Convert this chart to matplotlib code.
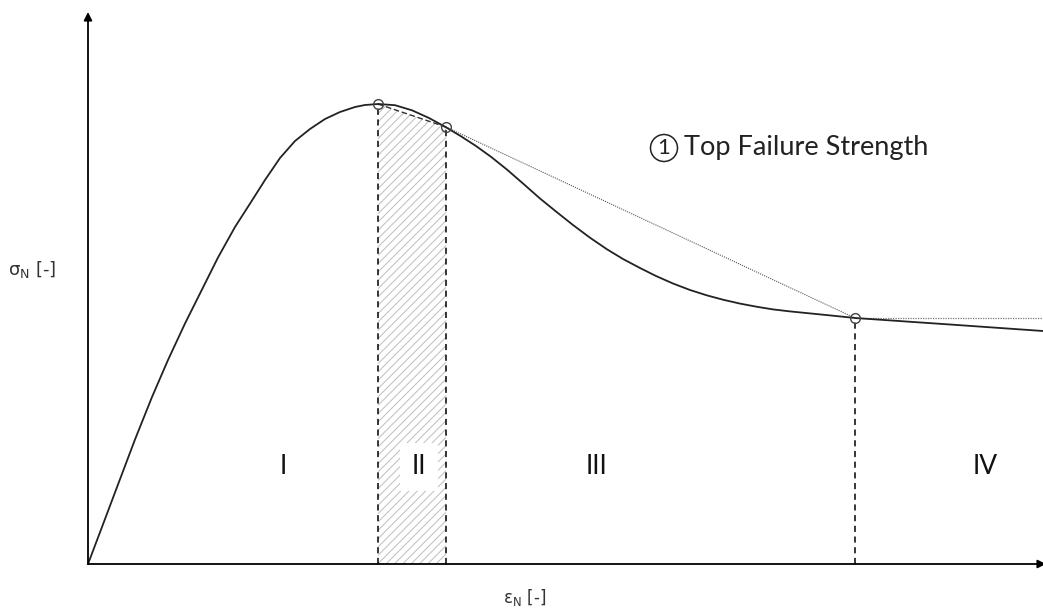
import numpy as np
import matplotlib.pyplot as plt
from matplotlib.patches import Circle

plt.rcParams['hatch.linewidth'] = 0.7

# stress-strain curve (normalised), read as strain / stress pairs
eps = [0, 14, 30, 47, 64, 80, 97, 114, 130, 147, 164, 177, 192, 207, 222,
       237, 252, 267, 277, 290,
       307, 324, 341, 358, 373, 388, 403, 419, 435, 452, 468, 485, 502,
       519, 535, 552, 568, 585, 602, 619, 635, 652, 669, 685, 702, 719,
       743, 767, 862, 955]
sig = [0, 37, 79.5, 124.5, 167, 204, 240.5, 274.5, 306.5, 337, 363.5, 384,
       406, 423, 435, 445, 452, 457, 459, 460,
       458.8, 453.7, 446, 436.7, 427.7, 418, 407.2, 394.4, 380.5, 365.5,
       352.5, 339, 326.3, 314.7, 305, 296, 288, 280.5, 274, 268.6, 264.3,
       260.4, 257.2, 254.6, 252.6, 250.9, 248.5, 246, 239.5, 233]

# characteristic points: peak, end of plateau, start of residual branch
key_eps = [290, 358, 767]
key_sig = [460, 437, 246]

zone_names = ['I', 'II', 'III', 'IV']
zone_pos = [195, 331, 508, 897]
zone_y = 97

x_end = 955
y_end = 552

fig = plt.figure(figsize=(10.43, 6.1), dpi=100)
ax = fig.add_axes([0, 0, 1, 1])
ax.set_xlim(-88, 955)
ax.set_ylim(-46, 564)
ax.axis('off')

# axes with arrows
arrow = dict(arrowstyle='-|>', color='black', lw=1.3, mutation_scale=12,
             shrinkA=0, shrinkB=0)
ax.annotate('', xy=(0, y_end), xytext=(0, 0), arrowprops=arrow,
            annotation_clip=False)
ax.annotate('', xy=(x_end + 3, 0), xytext=(0, 0), arrowprops=arrow,
            annotation_clip=False)

# hatched zone II under the chord peak -> second point
ax.fill([key_eps[0], key_eps[0], key_eps[1], key_eps[1]],
        [0, key_sig[0], key_sig[1], 0],
        facecolor='white', edgecolor='#bdbdbd', hatch='////', lw=0)

# vertical zone borders
for e, s in zip(key_eps, key_sig):
    ax.plot([e, e], [0, s], color='black', lw=1.1, ls=(0, (4, 3)))

# secant lines
ax.plot(key_eps[:2], key_sig[:2], color='#333333', lw=1.0, ls=(0, (4, 2)))
ax.plot(key_eps[1:], key_sig[1:], color='#555555', lw=0.8, ls=(0, (1, 1)))
ax.plot([key_eps[2], x_end], [key_sig[2], key_sig[2]], color='#777777',
        lw=0.9, ls=(0, (1, 1)))

# main curve
ax.plot(eps, sig, color='#222222', lw=1.3, solid_joinstyle='round')

ax.plot(key_eps, key_sig, 'o', ms=7, mfc='none', mec='#444444', mew=1.0)

# zone labels
for name, x in zip(zone_names, zone_pos):
    box = None
    if name == 'II':
        box = dict(boxstyle='square,pad=0.45', fc='white', ec='none')
    ax.text(x, zone_y, name, ha='center', va='center', fontsize=19,
            family=['Lato', 'DejaVu Sans'], color='#111111', bbox=box)

# numbered note (circled 1)
ax.add_patch(Circle((576, 416), 13.5, fill=False, ec='#222222', lw=1.1))
ax.text(576, 416, '1', ha='center', va='center', fontsize=16,
        family='Lato', color='#222222')
ax.text(596, 416, 'Top Failure Strength', ha='left', va='center',
        fontsize=19.5, family='Lato', color='#222222')

ax.text(-56, 294, r'$\mathregular{\sigma_N}$ [-]', ha='center', va='center',
        fontsize=13, color='#333333')
ax.text(437, -33, r'$\mathregular{\epsilon_N}$ [-]', ha='center',
        va='center', fontsize=12, color='#333333')

fig.savefig('out.png', dpi=100)
